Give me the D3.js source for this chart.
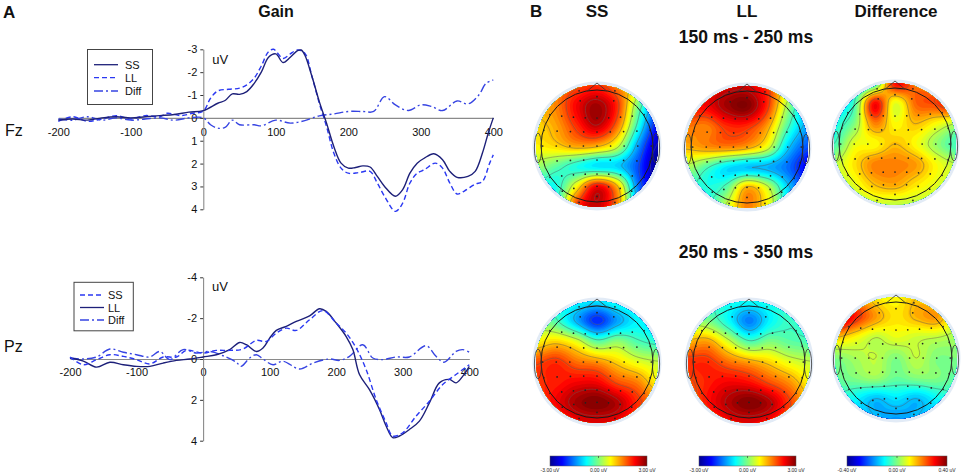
<!DOCTYPE html>
<html>
<head>
<meta charset="utf-8">
<script src="https://cdn.jsdelivr.net/npm/d3@7"></script>
<style>
  body { margin: 0; background: #fff; }
  text { font-family: "Liberation Sans", Arial, sans-serif; }
</style>
</head>
<body>
<svg id="fig" width="963" height="475"></svg>
<script>
// ---- ERP waveforms [ms, uV] (negative up) ----
var timeTicks = [-200, -100, 0, 100, 200, 300, 400];
var fzTicks = [-3, -2, -1, 0, 1, 2, 3, 4];
var pzTicks = [-4, -2, 0, 2, 4];

var fzSS = [[-200,0.1],[-180,0.05],[-160,0.1],[-140,0],[-120,-0.05],[-100,0],[-80,-0.05],[-60,-0.1],[-40,-0.15],[-20,-0.25],[0,-0.32],[20,-0.64],[30,-0.76],[40,-1.05],[50,-1.03],[60,-1.15],[70,-1.5],[80,-2.0],[90,-2.65],[100,-2.8],[110,-2.42],[120,-2.65],[130,-2.94],[135,-2.97],[140,-2.75],[150,-1.8],[160,-0.71],[170,0.23],[180,1.25],[190,1.98],[200,2.2],[210,2.17],[220,2.1],[230,2.15],[240,2.56],[250,3.0],[265,3.43],[275,3.14],[285,2.42],[295,1.98],[305,1.76],[318,1.57],[330,1.83],[340,2.34],[350,2.6],[365,2.56],[375,2.34],[385,1.54],[393,0.67],[400,0]];
var fzLL = [[-200,0.15],[-180,-0.05],[-160,0.15],[-140,0.05],[-120,-0.1],[-100,0.05],[-80,-0.1],[-60,-0.05],[-50,-0.2],[-30,-0.1],[-15,-0.2],[0,-0.3],[10,-0.86],[20,-1.18],[35,-1.25],[50,-1.3],[60,-1.44],[70,-1.73],[80,-2.27],[90,-2.9],[97,-3.0],[110,-2.6],[120,-2.8],[130,-2.97],[140,-2.83],[150,-1.8],[160,-0.64],[170,0.38],[180,1.54],[190,2.2],[200,2.42],[215,2.39],[230,2.34],[240,2.85],[250,3.43],[265,4.09],[275,3.73],[285,2.85],[295,2.42],[305,2.27],[320,1.98],[330,2.2],[340,2.85],[350,3.33],[360,3.2],[375,2.9],[385,2.78],[395,1.98],[400,1.62]];
var fzDiff = [[-200,0.05],[-180,0.1],[-160,-0.05],[-140,0.1],[-120,0],[-100,0.1],[-80,0.05],[-60,0],[-40,0.1],[-20,0],[0,0],[10,0.3],[20,0.45],[30,0.42],[40,0.1],[50,0.3],[70,0.3],[80,0.35],[100,0.1],[120,0.23],[140,0.12],[160,-0.09],[180,-0.17],[200,-0.28],[220,-0.28],[235,-0.28],[250,-0.93],[265,-0.57],[283,-0.32],[300,-0.57],[315,-0.5],[330,-0.32],[350,-0.74],[365,-0.61],[380,-1.0],[390,-1.51],[400,-1.66]];

var pzSS = [[-200,-0.1],[-180,0.28],[-160,0.03],[-140,-0.21],[-120,-0.13],[-100,0.03],[-80,0.24],[-60,-0.1],[-40,-0.1],[-25,-0.42],[0,-0.29],[20,-0.42],[40,-0.42],[60,-0.49],[80,-0.91],[95,-0.86],[110,-1.27],[125,-1.51],[140,-1.4],[160,-1.92],[180,-2.37],[200,-1.76],[215,-1.27],[230,-0.54],[245,0.52],[260,1.98],[275,3.12],[285,3.77],[300,3.61],[320,2.8],[340,2.07],[360,1.25],[380,0.76],[400,0.28]];
var pzLL = [[-200,-0.05],[-180,0.1],[-160,0.4],[-140,0.16],[-120,0.28],[-100,0.36],[-80,0.36],[-60,0.2],[-40,0.07],[-20,0],[0,-0.1],[20,-0.21],[40,-0.46],[55,-0.81],[65,-0.7],[80,-0.37],[90,-0.54],[100,-1.02],[110,-1.4],[125,-1.6],[140,-1.84],[160,-2.11],[175,-2.46],[185,-2.33],[200,-1.76],[215,-1.1],[225,-0.46],[235,0.76],[250,1.5],[265,2.47],[275,3.28],[285,3.85],[295,3.77],[310,3.45],[325,3.04],[340,2.15],[355,1.17],[370,1.0],[380,1.17],[390,0.85],[400,0.36]];
var pzDiff = [[-200,-0.05],[-180,0],[-160,-0.1],[-140,-0.49],[-120,-0.33],[-100,-0.21],[-80,-0.1],[-65,-0.37],[-50,0.03],[-30,-0.46],[-10,-0.29],[10,-0.37],[30,-0.16],[50,0.16],[57,0.36],[70,-0.05],[80,-0.21],[90,0],[105,0.28],[120,0.11],[145,0.49],[165,0.2],[190,0],[205,0.07],[220,-0.13],[240,-0.7],[255,-0.05],[270,0.03],[290,-0.1],[310,-0.1],[335,-0.65],[350,-0.13],[362,0.16],[380,-0.37],[390,-0.46],[400,-0.33]];

// ---- topographies: 7x7 value grids, front row first (uV) ----
var ssEarly = [
  [1.0, 1.5, 1.8, 2.0, 1.5, 0.8, -0.5],
  [1.2, 1.5, 2.3, 2.8, 2.0, 0.0, -1.5],
  [1.0, 1.3, 2.0, 2.6, 1.6, -0.5, -2.2],
  [0.8, 1.0, 1.3, 1.2, 0.5, -1.3, -2.7],
  [0.2, -0.2, -0.6, -0.9, -1.0, -1.8, -3.0],
  [-0.4, -0.6, 0.8, 2.3, 1.2, -1.5, -2.5],
  [-0.3, -0.3, 2.0, 2.6, 1.5, -1.0, -2.0]
];
var llEarly = [
  [2.0, 2.3, 2.5, 2.5, 2.0, 0.8, 0.0],
  [2.2, 2.3, 2.8, 3.0, 2.0, 0.2, -1.0],
  [1.6, 1.5, 2.0, 2.0, 1.3, -0.3, -1.3],
  [1.2, 1.4, 1.5, 1.3, 0.6, -1.0, -1.8],
  [0.3, -0.3, -0.9, -1.1, -1.2, -1.6, -2.3],
  [-0.2, -0.6, -0.2, 1.2, 0.5, -1.0, -1.8],
  [-0.2, -0.4, 0.5, 1.5, 0.8, -0.6, -1.2]
];
var diffEarly = [
  [-0.02, -0.08, -0.05, 0.3, 0.22, 0.2, 0.2],
  [-0.1, -0.05, 0.3, 0.08, 0.22, 0.25, 0.32],
  [-0.08, 0.0, 0.2, 0.1, 0.15, 0.1, 0.05],
  [-0.05, 0.08, 0.1, 0.15, 0.1, 0.02, -0.05],
  [0.05, 0.12, 0.2, 0.2, 0.18, 0.1, 0.05],
  [0.03, 0.08, 0.15, 0.17, 0.12, 0.08, 0.05],
  [0.0, 0.03, 0.06, 0.05, 0.05, 0.05, 0.05]
];
var ssLate = [
  [0.0, -0.4, -0.7, -0.9, -0.6, -0.5, -0.3],
  [0.2, -0.3, -1.2, -2.0, -1.3, -0.8, -1.0],
  [0.8, 1.0, 0.6, -0.2, 0.1, -0.3, -0.5],
  [1.8, 2.0, 1.6, 1.4, 1.0, 0.6, 0.4],
  [2.0, 2.1, 2.3, 2.3, 1.8, 1.5, 0.8],
  [1.8, 2.3, 2.8, 3.0, 2.7, 2.0, 1.5],
  [1.5, 1.8, 2.3, 2.4, 2.3, 1.8, 1.5]
];
var llLate = [
  [0.0, -0.3, -0.6, -0.7, -0.6, -0.3, 0.0],
  [0.3, 0.0, -0.7, -1.5, -0.8, -0.4, -0.5],
  [1.2, 1.3, 0.5, -0.3, 0.0, -0.2, -0.3],
  [2.0, 2.0, 1.6, 1.3, 1.0, 0.6, 0.4],
  [1.8, 2.1, 2.3, 2.2, 1.8, 1.4, 0.8],
  [1.6, 2.2, 2.7, 3.0, 2.7, 1.9, 1.2],
  [1.4, 1.8, 2.3, 2.4, 2.2, 1.6, 1.2]
];
var diffLate = [
  [0.3, 0.22, 0.12, 0.1, 0.15, 0.12, 0.05],
  [0.4, 0.28, 0.18, 0.12, 0.16, 0.18, 0.08],
  [0.15, 0.1, 0.05, 0.08, 0.06, 0.05, 0.03],
  [0.0, 0.03, 0.05, 0.0, 0.05, 0.0, 0.0],
  [-0.02, 0.0, 0.02, -0.02, 0.0, 0.0, -0.03],
  [-0.05, -0.1, -0.15, -0.12, -0.15, -0.1, -0.05],
  [-0.1, -0.12, -0.15, -0.18, -0.15, -0.12, -0.08]
];

// electrode rows of the cap, in head radii (y: front -1 .. back +1)
var montageRows = [
  {y: -0.88, n: 3, w: 0.32},
  {y: -0.72, n: 2, w: 0.3},
  {y: -0.5, n: 9, w: 0.84},
  {y: -0.25, n: 9, w: 0.95},
  {y: 0, n: 9, w: 0.97},
  {y: 0.25, n: 9, w: 0.95},
  {y: 0.5, n: 9, w: 0.84},
  {y: 0.72, n: 7, w: 0.62},
  {y: 0.9, n: 3, w: 0.32}
];

var svg = d3.select('#fig');

var lineStyles = {
  solid: {color: '#1d2079', dash: null},
  dash: {color: '#2a38f2', dash: '5,3'},
  dashdot: {color: '#3644e2', dash: '9,3,2,3'}
};

var erpPanels = [
  {
    name: 'Fz', nameX: 5, nameY: 136,
    xRange: [58.3, 493.3], yDomain: [-3, 4], yRange: [49.3, 209.3], yTicks: fzTicks, xPad: 10,
    uvY: 64,
    series: [{data: fzSS, style: 'solid'}, {data: fzLL, style: 'dash'}, {data: fzDiff, style: 'dashdot'}],
    legend: {x: 87.5, y: 49.5, w: 65, h: 55, lineX: 94, textX: 125, rows: [64.7, 77.7, 91],
      items: [['SS', 'solid'], ['LL', 'dash'], ['Diff', 'dashdot']]}
  },
  {
    name: 'Pz', nameX: 4, nameY: 352,
    xRange: [70, 469.3], yDomain: [-4, 4], yRange: [277.3, 440.7], yTicks: pzTicks, xPad: 9,
    uvY: 291,
    series: [{data: pzSS, style: 'dash'}, {data: pzLL, style: 'solid'}, {data: pzDiff, style: 'dashdot'}],
    legend: {x: 74, y: 282.3, w: 59.3, h: 48.5, lineX: 80, textX: 108, rows: [295, 307.5, 320],
      items: [['SS', 'dash'], ['LL', 'solid'], ['Diff', 'dashdot']]}
  }
];

function drawErp(p) {
  var x = d3.scaleLinear().domain([-200, 400]).range(p.xRange);
  var y = d3.scaleLinear().domain(p.yDomain).range(p.yRange);
  var g = svg.append('g');

  var xAxis = g.append('g')
      .attr('transform', 'translate(0,' + y(0) + ')')
      .call(d3.axisBottom(x).tickValues(timeTicks).tickSize(0).tickPadding(p.xPad)
        .tickFormat(function(d) { return String(d); }));

  var yAxis = g.append('g')
      .attr('transform', 'translate(' + x(0) + ',0)')
      .call(d3.axisLeft(y).tickValues(p.yTicks).tickSize(3).tickSizeOuter(0).tickPadding(3)
        .tickFormat(function(d) { return String(d); }));

  [xAxis, yAxis].forEach(function(a) {
    a.select('.domain').attr('stroke', '#8a8a8a').attr('stroke-width', 1.1);
    a.selectAll('text').attr('font-size', 11).attr('fill', '#111')
      .attr('font-family', '"Liberation Sans", Arial, sans-serif');
    a.selectAll('.tick line').attr('stroke', '#333');
  });

  g.append('text').attr('x', x(0) + 9).attr('y', p.uvY)
    .attr('font-size', 13).attr('fill', '#111').text('uV');

  g.append('text').attr('x', p.nameX).attr('y', p.nameY)
    .attr('font-size', 16).attr('fill', '#111').text(p.name);

  var line = d3.line()
      .x(function(d) { return x(d[0]); })
      .y(function(d) { return y(d[1]); })
      .curve(d3.curveCatmullRom.alpha(0.5));

  // diff first, conditions on top
  p.series.slice().reverse().forEach(function(s) {
    var st = lineStyles[s.style];
    g.append('path').datum(s.data)
      .attr('d', line)
      .attr('fill', 'none')
      .attr('stroke', st.color)
      .attr('stroke-width', 1.4)
      .attr('stroke-dasharray', st.dash);
  });

  // legend
  var L = p.legend;
  g.append('rect').attr('x', L.x).attr('y', L.y).attr('width', L.w).attr('height', L.h)
    .attr('fill', '#fff').attr('stroke', '#444').attr('stroke-width', 1);
  L.items.forEach(function(it, i) {
    var st = lineStyles[it[1]];
    g.append('line').attr('x1', L.lineX).attr('x2', L.lineX + 24)
      .attr('y1', L.rows[i]).attr('y2', L.rows[i])
      .attr('stroke', st.color).attr('stroke-width', 1.3).attr('stroke-dasharray', st.dash);
    g.append('text').attr('x', L.textX).attr('y', L.rows[i] + 4)
      .attr('font-size', 11).attr('fill', '#111').text(it[0]);
  });
}

erpPanels.forEach(drawErp);

// ---- topographic maps ----
var jetStops = [0, 0.125, 0.375, 0.625, 0.875, 1];
var jetColors = ['#00008f', '#0000ff', '#00ffff', '#ffff00', '#ff0000', '#800000'];

function jet(lim) {
  return d3.scaleLinear()
    .domain(jetStops.map(function(t) { return -lim + 2 * lim * t; }))
    .range(jetColors)
    .clamp(true);
}

function cubic(p0, p1, p2, p3, t) {
  return p1 + 0.5 * t * (p2 - p0 + t * (2 * p0 - 5 * p1 + 4 * p2 - p3 + t * (3 * (p1 - p2) + p3 - p0)));
}

function bicubic(grid, gx, gy) {
  var n = grid.length;
  gx = Math.max(0, Math.min(n - 1, gx));
  gy = Math.max(0, Math.min(n - 1, gy));
  var ix = Math.min(Math.floor(gx), n - 2), iy = Math.min(Math.floor(gy), n - 2);
  var tx = gx - ix, ty = gy - iy;
  function at(r, c) {
    r = Math.max(0, Math.min(n - 1, r));
    c = Math.max(0, Math.min(n - 1, c));
    return grid[r][c];
  }
  var col = [];
  for (var k = -1; k <= 2; k++) {
    col.push(cubic(at(iy + k, ix - 1), at(iy + k, ix), at(iy + k, ix + 1), at(iy + k, ix + 2), tx));
  }
  return cubic(col[0], col[1], col[2], col[3], ty);
}

var N = 90, EXT = 1.12;   // sampling grid, in map radii
var R = 61, headR = 56;   // coloured disk, head outline

function field(grid) {
  var n = grid.length, vals = new Array(N * N);
  for (var j = 0; j < N; j++) {
    for (var i = 0; i < N; i++) {
      var u = -EXT + 2 * EXT * (i + 0.5) / N;
      var v = -EXT + 2 * EXT * (j + 0.5) / N;
      vals[j * N + i] = bicubic(grid, (u + 1) / 2 * (n - 1), (v + 1) / 2 * (n - 1));
    }
  }
  return vals;
}

var electrodes = [];
montageRows.forEach(function(row) {
  for (var i = 0; i < row.n; i++) {
    var u = row.n > 1 ? (i / (row.n - 1)) * 2 - 1 : 0;
    electrodes.push([u * row.w, row.y * (1 + 0.12 * u * u)]);
  }
});

var topoMaps = [
  {grid: ssEarly, lim: 3, cx: 597, cy: 146},
  {grid: llEarly, lim: 3, cx: 747, cy: 147},
  {grid: diffEarly, lim: 0.4, cx: 895, cy: 144},
  {grid: ssLate, lim: 3, cx: 597, cy: 362},
  {grid: llLate, lim: 3, cx: 749, cy: 362},
  {grid: diffLate, lim: 0.4, cx: 896, cy: 358}
];

var defs = svg.append('defs');

topoMaps.forEach(function(m, idx) {
  var color = jet(m.lim);
  var step = m.lim / 25;
  var vals = field(m.grid);
  var levels = d3.range(-m.lim * 1.6, m.lim * 1.6, step);
  var bands = d3.contours().size([N, N]).thresholds(levels)(vals);
  var lineLevels = d3.range(-m.lim * 7 / 8, m.lim, m.lim / 4);
  var isolines = d3.contours().size([N, N]).thresholds(lineLevels)(vals);

  var path = d3.geoPath(d3.geoIdentity()
      .scale(2 * EXT * R / N)
      .translate([m.cx - EXT * R, m.cy - EXT * R]));

  defs.append('clipPath').attr('id', 'disk' + idx)
    .append('circle').attr('cx', m.cx).attr('cy', m.cy).attr('r', R);

  var g = svg.append('g');

  g.append('circle').attr('cx', m.cx).attr('cy', m.cy).attr('r', R + 3.5)
    .attr('fill', '#e2ebf6');

  var disk = g.append('g').attr('clip-path', 'url(#disk' + idx + ')');
  disk.selectAll('path.band').data(bands).enter().append('path')
    .attr('class', 'band')
    .attr('d', path)
    .attr('fill', function(d) { return color(d.value + step / 2); });
  disk.selectAll('path.iso').data(isolines).enter().append('path')
    .attr('class', 'iso')
    .attr('d', path)
    .attr('fill', 'none')
    .attr('stroke', '#5a5a5a')
    .attr('stroke-opacity', 0.75)
    .attr('stroke-width', 0.6);

  // head, nose, ears
  g.append('circle').attr('cx', m.cx).attr('cy', m.cy).attr('r', headR)
    .attr('fill', 'none').attr('stroke', '#1a1a1a').attr('stroke-width', 1);
  g.append('path')
    .attr('d', d3.line()([[m.cx - 9.7, m.cy - headR + 1], [m.cx, m.cy - headR - 7], [m.cx + 9.7, m.cy - headR + 1]]))
    .attr('fill', 'none').attr('stroke', '#333').attr('stroke-width', 0.8);
  [-1, 1].forEach(function(side) {
    g.append('ellipse').attr('cx', m.cx + side * (headR + 3)).attr('cy', m.cy + 2)
      .attr('rx', 3.6).attr('ry', 15)
      .attr('fill', 'none').attr('stroke', '#333').attr('stroke-width', 0.8);
  });

  g.selectAll('circle.el').data(electrodes).enter().append('circle')
    .attr('class', 'el')
    .attr('cx', function(d) { return m.cx + d[0] * headR; })
    .attr('cy', function(d) { return m.cy + d[1] * headR; })
    .attr('r', 0.85)
    .attr('fill', '#222');
});

// ---- colour bars ----
var grad = defs.append('linearGradient').attr('id', 'jetGrad');
jetStops.forEach(function(t, i) {
  grad.append('stop').attr('offset', t).attr('stop-color', jetColors[i]);
});

var colorBars = [
  {x0: 550, x1: 647, labels: ['-3.00 uV', '0.00 uV', '3.00 uV']},
  {x0: 699, x1: 796, labels: ['-3.00 uV', '0.00 uV', '3.00 uV']},
  {x0: 847, x1: 947, labels: ['-0.40 uV', '0.00 uV', '0.40 uV']}
];

colorBars.forEach(function(b) {
  svg.append('rect').attr('x', b.x0).attr('y', 456).attr('width', b.x1 - b.x0).attr('height', 10)
    .attr('fill', 'url(#jetGrad)').attr('stroke', '#555').attr('stroke-width', 0.5);
  var xm = (b.x0 + b.x1) / 2;
  svg.append('line').attr('x1', xm).attr('x2', xm).attr('y1', 456).attr('y2', 458)
    .attr('stroke', '#333').attr('stroke-width', 0.6);
  [b.x0, xm, b.x1].forEach(function(xx, i) {
    svg.append('text').attr('x', xx).attr('y', 471.5).attr('text-anchor', 'middle')
      .attr('font-size', 5).attr('fill', '#222').text(b.labels[i]);
  });
});

// ---- titles ----
var titles = [
  {text: 'A', x: 3, y: 18, size: 17, anchor: 'start'},
  {text: 'Gain', x: 276, y: 17, size: 16, anchor: 'middle'},
  {text: 'B', x: 530, y: 17, size: 17, anchor: 'start'},
  {text: 'SS', x: 597, y: 17, size: 17, anchor: 'middle'},
  {text: 'LL', x: 747, y: 17, size: 17, anchor: 'middle'},
  {text: 'Difference', x: 896, y: 17, size: 17, anchor: 'middle'},
  {text: '150 ms - 250 ms', x: 746, y: 43, size: 17.5, anchor: 'middle'},
  {text: '250 ms - 350 ms', x: 746, y: 258, size: 17.5, anchor: 'middle'}
];

svg.selectAll('text.title').data(titles).enter().append('text')
  .attr('class', 'title')
  .attr('x', function(d) { return d.x; })
  .attr('y', function(d) { return d.y; })
  .attr('font-size', function(d) { return d.size; })
  .attr('font-weight', 'bold')
  .attr('text-anchor', function(d) { return d.anchor; })
  .attr('fill', '#111')
  .text(function(d) { return d.text; });
</script>
</body>
</html>
